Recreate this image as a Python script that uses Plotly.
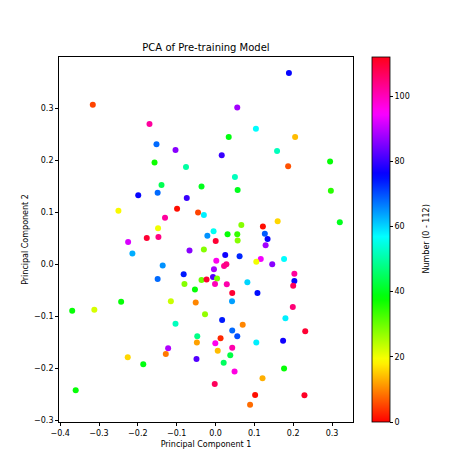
import numpy as np
import plotly.graph_objects as go

pc1 = [-0.316, -0.170, -0.152, -0.103, -0.157, -0.076, -0.139, -0.036, -0.199, -0.149,
       -0.074, -0.250, -0.099, -0.045, -0.030, -0.130, -0.148, -0.177, -0.147, 0.189,
       0.056, 0.104, 0.034, 0.205, 0.016, 0.1585, 0.187, 0.295, 0.050, 0.057,
       0.297, 0.160, 0.320, 0.0665, 0.122, -0.005, 0.031, 0.056, -0.021, 0.127,
       0.134, -0.225, -0.214, -0.067, -0.030, -0.136, -0.149, -0.082, -0.080, -0.036,
       -0.053, -0.243, -0.115, -0.051, -0.369, -0.312, -0.027, -0.103, -0.047, -0.048,
       -0.122, -0.128, -0.226, -0.186, -0.049, -0.360, 0.057, 0.129, 0.0005, 0.025,
       0.062, 0.1165, 0.1765, 0.002, 0.022, 0.028, 0.105, 0.146, -0.004, -0.0065,
       0.004, -0.023, -0.0013, 0.029, 0.203, 0.203, 0.200, 0.082, 0.043, 0.108,
       0.0425, 0.199, 0.180, 0.017, 0.070, 0.231, 0.043, 0.056, 0.013, 0.105,
       0.174, -0.0005, 0.0057, 0.043, 0.038, 0.021, 0.049, 0.1765, 0.121, -0.002,
       0.102, 0.229, 0.089]
pc2 = [0.307, 0.270, 0.231, 0.220, 0.196, 0.1875, 0.153, 0.150, 0.133, 0.138,
       0.128, 0.1035, 0.107, 0.0997, 0.095, 0.090, 0.0696, 0.051, 0.053, 0.368,
       0.302, 0.261, 0.245, 0.245, 0.210, 0.218, 0.189, 0.198, 0.168, 0.143,
       0.142, 0.083, 0.081, 0.076, 0.073, 0.064, 0.058, 0.058, 0.055, 0.059,
       0.049, 0.043, 0.021, 0.027, 0.029, -0.002, -0.028, -0.019, -0.0375, -0.030,
       -0.048, -0.0715, -0.071, -0.0734, -0.089, -0.087, -0.096, -0.114, -0.138, -0.150,
       -0.161, -0.172, -0.1785, -0.192, -0.182, -0.242, 0.046, 0.037, 0.045, 0.018,
       0.016, 0.0106, 0.0106, 0.007, -0.003, 0.0004, 0.005, 0.0004, -0.009, -0.024,
       -0.027, -0.029, -0.0375, -0.038, -0.0177, -0.032, -0.041, -0.034, -0.055, -0.055,
       -0.071, -0.082, -0.1035, -0.107, -0.116, -0.1285, -0.127, -0.138, -0.142, -0.150,
       -0.1465, -0.1515, -0.166, -0.160, -0.1747, -0.189, -0.206, -0.200, -0.219, -0.230,
       -0.251, -0.2515, -0.270]
number = [5, 102, 68, 86, 37, 50, 44, 40, 76, 68,
          80, 19, 1, 5, 58, 102, 20, 110, 104, 76,
          88, 57, 39, 14, 80, 52, 6, 38, 52, 40,
          35, 16, 40, 28, 1, 56, 38, 34, 65, 69,
          76, 92, 63, 86, 28, 65, 68, 74, 28, 30,
          38, 38, 23, 10, 38, 22, 27, 52, 48, 12,
          89, 9, 16, 39, 82, 38, 28, 88, 110, 77,
          73, 94, 57, 96, 103, 104, 20, 86, 88, 82,
          29, 110, 100, 101, 102, 76, 107, 60, 110, 75,
          64, 105, 58, 74, 10, 110, 68, 70, 3, 58,
          77, 96, 14, 101, 43, 45, 97, 38, 13, 107,
          1, 111, 8]
cbar_ticks = [0, 20, 40, 60, 80, 100]

# matplotlib 'hsv' colormap
stops = [0.0, 0.158730, 0.174603, 0.333333, 0.349206, 0.507937,
         0.666667, 0.682540, 0.841270, 0.857143, 1.0]
r_seg = ([0, 0.158730, 0.174603, 0.333333, 0.349206, 0.666667, 0.682540, 0.841270, 0.857143, 1],
         [1, 1, 0.96875, 0.03125, 0, 0, 0.03125, 0.96875, 1, 1])
g_seg = ([0, 0.158730, 0.174603, 0.507937, 0.666667, 0.682540, 1],
         [0, 0.9375, 1, 1, 0.0625, 0, 0])
b_seg = ([0, 0.333333, 0.349206, 0.507937, 0.841270, 0.857143, 1],
         [0, 0, 0.0625, 1, 1, 0.9375, 0.09375])
cscale = []
for s in stops:
    r = np.interp(s, *r_seg); g = np.interp(s, *g_seg); b = np.interp(s, *b_seg)
    cscale.append([s, f"rgb({int(round(r*255))},{int(round(g*255))},{int(round(b*255))})"])

font = "DejaVu Sans"
fig = go.Figure(go.Scatter(
    x=pc1, y=pc2, mode="markers",
    marker=dict(size=6, color=number, colorscale=cscale, cmin=0, cmax=112,
                line=dict(width=0),
                colorbar=dict(
                    x=(372 - 59) / 294, xanchor="left", xref="paper", y=0.5, yanchor="middle",
                    len=1, lenmode="fraction", thickness=18, xpad=0, ypad=0,
                    outlinewidth=0.8, outlinecolor="black",
                    tickvals=cbar_ticks, ticks="outside", ticklen=3,
                    tickcolor="black", tickfont=dict(family=font, size=8, color="black"),
                )),
    showlegend=False,
))

axis_common = dict(showline=True, linecolor="black", linewidth=0.8, mirror=True,
                   ticks="outside", ticklen=3, tickcolor="black", showgrid=False,
                   zeroline=False, tickformat=".1f", automargin=False,
                   tickfont=dict(family=font, size=8, color="black"))
fig.update_xaxes(range=[-0.403, 0.354], tickvals=[-0.4, -0.3, -0.2, -0.1, 0, 0.1, 0.2, 0.3],
                 title=dict(text="Principal Component 1", standoff=4,
                            font=dict(family=font, size=8, color="black")), **axis_common)
fig.update_yaxes(range=[-0.303, 0.399], tickvals=[-0.3, -0.2, -0.1, 0, 0.1, 0.2, 0.3],
                 title=dict(text="Principal Component 2", standoff=4,
                            font=dict(family=font, size=8, color="black")), **axis_common)
fig.add_annotation(text="Number (0 - 112)", xref="paper", yref="paper",
                   x=(426 - 59) / 294, y=0.5, xanchor="center", yanchor="middle",
                   textangle=-90, showarrow=False,
                   font=dict(family=font, size=8, color="black"))
fig.update_layout(
    width=474, height=474,
    margin=dict(l=59, r=121, t=57, b=52, autoexpand=False),
    paper_bgcolor="white", plot_bgcolor="white",
    title=dict(text="PCA of Pre-training Model", x=(59 + 353) / 2 / 474, xanchor="center",
               y=1 - 47 / 474, yanchor="middle", font=dict(family=font, size=10, color="black")),
)
fig.write_html("out.html", config={"displayModeBar": False},
               post_script="document.body.style.margin='0';document.body.style.overflow='hidden';")
